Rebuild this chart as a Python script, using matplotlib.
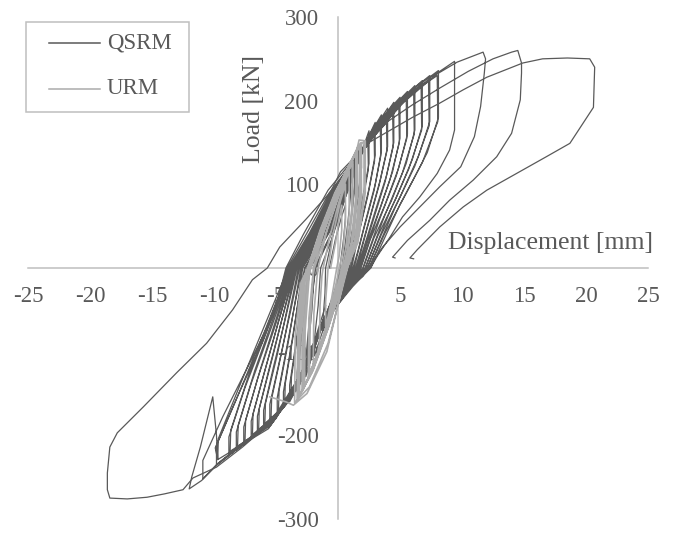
import numpy as np
import matplotlib
matplotlib.use("Agg")
import matplotlib.pyplot as plt
from matplotlib.lines import Line2D
from matplotlib.patches import Rectangle

# ---------------------------------------------------------------------------
# Cyclic test results: (displacement [mm], load [kN]) vertices
# ---------------------------------------------------------------------------

# QSRM wall, cycles 1-18 (recorded continuously; primed = repeated cycle)
qsrm_run1 = [
    # 1
    (-0.7, 0), (-0.2, 35), (0.3, 62), (0.6, 75), (0.6, 60), (0.45, 35), (0.15, 0),
    (-0.3, -30), (-0.8, -55), (-1.2, -75), (-1.2, -60), (-1.05, -30), (-1.0, 0),
    # 2
    (-0.4, 40), (0.3, 80), (1.0, 105), (1.0, 85), (0.8, 55), (0.55, 25), (0.3, 0),
    (-0.3, -30), (-1.0, -65), (-1.9, -105), (-1.9, -85), (-1.6, -45), (-1.4, 0),
    # 3
    (-0.5, 35), (0.4, 75), (1.4, 128), (1.4, 105), (1.15, 70), (0.8, 35), (0.45, 0),
    (-0.2, -25), (-1.2, -65), (-2.0, -100), (-2.6, -130), (-2.6, -110), (-2.3, -60), (-1.8, 0),
    # 3'
    (-0.6, 38), (0.5, 80), (1.3, 122), (1.35, 100), (1.1, 62), (0.6, 15), (0.3, -10),
    (-0.8, -50), (-1.8, -92), (-2.5, -124), (-2.45, -100), (-2.1, -50), (-1.9, 0),
    # 4
    (-0.6, 40), (0.6, 85), (1.3, 125), (1.9, 150), (1.9, 120), (1.6, 85), (1.1, 40), (0.6, 0),
    (0.0, -20), (-1.2, -66), (-2.3, -107), (-3.3, -148), (-3.3, -125), (-2.9, -70), (-2.5, -25), (-2.2, 0),
    # 4'
    (-0.7, 45), (0.8, 95), (1.8, 142), (1.85, 112), (1.5, 72), (1.0, 30), (0.7, 0),
    (-0.2, -28), (-1.5, -75), (-2.6, -118), (-3.2, -142), (-3.15, -115), (-2.8, -60), (-2.4, 0),
    # 5
    (-0.6, 45), (0.9, 95), (1.7, 130), (2.5, 164), (2.5, 125), (2.0, 85), (1.4, 40), (0.8, 0),
    (0.1, -22), (-1.25, -64), (-2.35, -105), (-3.1, -137), (-3.9, -160),
    (-3.9, -140), (-3.4, -90), (-2.9, -35), (-2.5, 0),
    # 5'
    (-0.8, 45), (0.8, 95), (1.8, 132), (2.4, 156), (2.45, 118), (1.9, 72), (1.2, 25), (0.9, 0),
    (-0.1, -28), (-1.5, -74), (-2.6, -114), (-3.8, -154), (-3.75, -130), (-3.2, -75), (-2.65, 0),
    # 6
    (-1.0, 40), (0.6, 88), (1.6, 128), (2.3, 152), (3.0, 174), (3.0, 135), (2.5, 95), (1.8, 50),
    (1.3, 20), (1.0, 0), (0.2, -22), (-1.2, -67), (-2.3, -108), (-3.15, -139), (-3.9, -156),
    (-4.4, -167), (-4.4, -148), (-3.8, -95), (-3.2, -40), (-2.7, 0),
    # 6'
    (-1.0, 42), (0.5, 90), (1.9, 138), (2.9, 166), (2.95, 128), (2.4, 86), (1.6, 36), (1.1, 0),
    (0.0, -26), (-1.5, -74), (-2.7, -118), (-4.3, -161), (-4.25, -138), (-3.6, -80), (-2.85, 0),
    # 7
    (-1.1, 42), (0.5, 90), (1.6, 130), (2.5, 158), (3.5, 183), (3.5, 140), (3.0, 100), (2.2, 55),
    (1.6, 20), (1.2, 0), (0.3, -21), (-1.3, -65), (-2.4, -106), (-3.1, -136), (-3.95, -158),
    (-4.9, -176), (-4.9, -155), (-4.2, -100), (-3.5, -45), (-2.9, 0),
    # 7'
    (-1.2, 42), (0.4, 90), (2.0, 140), (3.4, 175), (3.45, 134), (2.9, 92), (2.0, 42), (1.3, 0),
    (0.1, -26), (-1.6, -76), (-2.8, -122), (-4.8, -170), (-4.75, -146), (-4.0, -88), (-3.0, 0),
    # 8
    (-1.2, 42), (0.4, 90), (1.7, 135), (2.9, 166), (4.0, 191), (4.0, 145), (3.4, 105), (2.6, 62),
    (1.9, 25), (1.4, 0), (0.4, -22), (-1.2, -64), (-2.3, -104), (-3.1, -139), (-3.9, -157),
    (-4.7, -172), (-5.5, -185), (-5.5, -163), (-4.7, -110), (-3.8, -50), (-3.1, 0),
    # 8'
    (-1.3, 42), (0.3, 90), (2.1, 142), (3.9, 183), (3.95, 140), (3.3, 98), (2.4, 50), (1.5, 0),
    (0.2, -25), (-1.6, -77), (-2.9, -124), (-4.1, -160), (-5.4, -180), (-5.35, -156),
    (-4.5, -98), (-3.2, 0),
    # 9
    (-1.4, 42), (0.2, 90), (1.8, 138), (3.0, 168), (3.9, 185), (4.5, 198), (4.5, 150), (3.9, 110),
    (3.0, 68), (2.2, 30), (1.55, 0), (0.5, -22), (-1.2, -66), (-2.3, -107), (-3.1, -138),
    (-3.9, -158), (-5.0, -178), (-6.0, -190), (-6.0, -170), (-5.2, -118), (-4.2, -58), (-3.3, 0),
    # 9'
    (-1.5, 42), (0.1, 90), (2.2, 145), (3.6, 178), (4.4, 192), (4.45, 145), (3.8, 103), (2.8, 55),
    (1.65, 0), (0.3, -25), (-1.6, -78), (-3.0, -126), (-4.4, -166), (-5.9, -186), (-5.85, -162),
    (-4.9, -104), (-3.4, 0),
    # 10
    (-1.6, 42), (0.0, 90), (1.8, 138), (3.0, 170), (4.4, 194), (5.0, 204), (5.0, 155), (4.4, 115),
    (3.4, 72), (2.4, 32), (1.7, 0), (0.6, -22), (-1.3, -66), (-2.3, -105), (-3.2, -139),
    (-3.9, -156), (-5.5, -186), (-6.5, -197), (-6.5, -177), (-5.6, -123), (-4.5, -60), (-3.4, 0),
    # 10'
    (-1.6, 42), (0.0, 90), (2.3, 146), (4.0, 184), (4.9, 198), (4.95, 150), (4.2, 106), (3.1, 58),
    (1.8, 0), (0.4, -25), (-1.6, -78), (-3.0, -127), (-4.6, -170), (-6.4, -193), (-6.35, -168),
    (-5.3, -108), (-3.5, 0),
    # 11
    (-1.7, 42), (-0.1, 90), (1.8, 138), (3.1, 172), (4.9, 200), (5.6, 211), (5.6, 160), (4.9, 120),
    (3.8, 76), (2.6, 34), (1.85, 0), (0.7, -22), (-1.2, -65), (-2.3, -106), (-3.1, -138),
    (-3.9, -157), (-5.6, -187), (-6.4, -196), (-7.0, -204), (-7.0, -183), (-6.0, -128),
    (-4.8, -64), (-3.5, 0),
    # 11'
    (-1.8, 42), (-0.1, 90), (2.4, 148), (4.4, 190), (5.5, 205), (5.55, 155), (4.7, 110), (3.4, 60),
    (2.0, 0), (0.5, -25), (-1.6, -78), (-3.0, -127), (-4.8, -175), (-6.9, -199), (-6.85, -174),
    (-5.7, -112), (-3.6, 0),
    # 12
    (-1.8, 42), (-0.2, 90), (1.8, 138), (3.2, 173), (5.4, 206), (6.2, 218), (6.2, 165), (5.5, 125),
    (4.3, 80), (2.9, 36), (2.05, 0), (0.8, -22), (-1.2, -64), (-2.4, -107), (-3.1, -137),
    (-3.9, -158), (-5.6, -188), (-7.0, -204), (-7.6, -212), (-7.6, -190), (-6.5, -133),
    (-5.0, -66), (-3.6, 0),
    # 12'
    (-1.9, 42), (-0.2, 90), (2.5, 150), (4.8, 195), (6.1, 212), (6.15, 160), (5.2, 114), (3.8, 64),
    (2.2, 0), (0.6, -25), (-1.6, -78), (-3.0, -128), (-5.0, -180), (-7.5, -207), (-7.45, -182),
    (-6.2, -118), (-3.7, 0),
    # 13
    (-1.9, 42), (-0.3, 90), (1.8, 138), (3.3, 174), (5.9, 212), (6.8, 224), (6.8, 170), (6.0, 130),
    (4.7, 84), (3.2, 38), (2.2, 0), (0.9, -22), (-1.2, -66), (-2.3, -106), (-3.1, -139),
    (-3.9, -157), (-5.6, -187), (-7.6, -211), (-8.2, -218), (-8.2, -196), (-7.0, -138),
    (-5.3, -68), (-3.7, 0),
    # 13'
    (-2.0, 42), (-0.3, 90), (2.6, 152), (5.2, 200), (6.7, 218), (6.75, 165), (5.7, 118), (4.2, 68),
    (2.35, 0), (0.7, -25), (-1.6, -78), (-3.0, -128), (-5.2, -184), (-8.1, -213), (-8.05, -188),
    (-6.7, -122), (-3.8, 0),
    # 14
    (-2.0, 42), (-0.4, 90), (1.8, 138), (3.4, 175), (6.4, 218), (7.4, 230), (7.4, 175), (6.5, 134),
    (5.1, 88), (3.5, 40), (2.35, 0), (1.0, -22), (-1.2, -65), (-2.3, -105), (-3.1, -138),
    (-3.9, -157), (-5.6, -186), (-8.2, -217), (-8.8, -224), (-8.8, -202), (-7.5, -143),
    (-5.6, -70), (-3.8, 0),
    # 14'
    (-2.1, 42), (-0.4, 90), (2.7, 154), (5.6, 205), (7.3, 224), (7.35, 170), (6.2, 122), (4.6, 72),
    (2.5, 0), (0.8, -25), (-1.6, -78), (-3.0, -128), (-5.4, -188), (-8.7, -219), (-8.65, -194),
    (-7.2, -128), (-3.9, 0),
    # 15
    (-2.1, 42), (-0.5, 90), (1.8, 138), (3.5, 176), (7.0, 224), (8.1, 236), (8.1, 180), (7.2, 138),
    (5.6, 92), (3.8, 42), (2.5, 0), (1.1, -22), (-1.2, -65), (-2.3, -106), (-3.1, -138),
    (-3.9, -157), (-5.6, -187), (-8.8, -223), (-9.8, -235), (-9.8, -212), (-8.0, -150),
    (-5.9, -75), (-3.9, 0),
    # 15'
    (-2.2, 42), (-0.5, 90), (2.8, 156), (6.0, 210), (8.0, 230), (8.05, 175), (6.8, 126), (5.0, 76),
    (2.65, 0), (0.9, -25), (-1.6, -78), (-3.0, -128), (-5.6, -192), (-9.7, -229), (-9.65, -204),
    (-7.8, -136), (-4.0, 0),
    # 16
    (-2.3, 42), (-0.6, 90), (1.8, 138), (3.6, 177), (7.5, 228), (9.4, 247), (9.4, 165), (9.0, 141),
    (8.0, 113), (6.6, 85), (5.2, 61), (4.2, 37), (3.2, 15), (2.6, 0), (1.2, -22), (-1.2, -65),
    (-2.3, -106), (-3.1, -138), (-3.9, -157), (-5.6, -187), (-9.8, -235), (-10.9, -252),
    (-10.9, -230), (-9.3, -178), (-7.0, -110), (-5.2, -55), (-4.1, 0),
    # 17
    (-2.5, 42), (-0.7, 90), (1.8, 138), (3.7, 178), (8.0, 232), (9.6, 246), (11.7, 258),
    (11.9, 250), (11.8, 233), (11.5, 193), (11.0, 157), (9.9, 121), (8.2, 97), (6.6, 73),
    (5.0, 49), (3.6, 25), (2.7, 5), (2.0, -10), (1.0, -22), (-1.2, -65), (-2.3, -106),
    (-3.1, -138), (-3.9, -157), (-5.6, -187), (-9.8, -236), (-11.0, -254), (-12.0, -264),
    (-11.8, -250), (-11.1, -214), (-10.1, -154), (-9.8, -200), (-9.7, -229), (-9.9, -215),
    (-8.0, -150), (-6.0, -85), (-4.8, -35), (-4.2, 0),
    # 18
    (-2.8, 40), (-0.8, 93), (1.7, 138), (4.0, 175), (6.0, 195), (8.2, 215), (10.5, 235),
    (12.5, 250), (14.0, 258), (14.5, 260), (14.8, 245), (14.8, 233), (14.7, 201), (14.0, 161),
    (12.8, 133), (10.9, 105), (9.0, 81), (7.4, 57), (5.6, 33), (4.4, 13), (4.6, 12),
]

# QSRM wall, final cycle (recorded after a gap)
qsrm_run2 = [
    (-1.0, -45), (-2.3, -106), (-3.1, -138), (-3.9, -157), (-5.6, -187), (-7.7, -214),
    (-9.8, -238), (-11.7, -251), (-12.5, -265), (-14.0, -270), (-15.4, -274), (-17.0, -276),
    (-18.4, -275), (-18.6, -265), (-18.6, -245), (-18.4, -214), (-17.8, -197), (-15.7, -166),
    (-13.0, -125), (-10.6, -90), (-8.5, -50), (-6.9, -14), (-5.7, 0), (-4.7, 25), (-2.6, 58),
    (-0.6, 91), (0.2, 115), (2.5, 150), (6.0, 180), (8.2, 197), (10.1, 213), (12.0, 228),
    (14.9, 245), (16.5, 250), (18.5, 251), (20.3, 250), (20.7, 240), (20.6, 192), (18.7, 149),
    (16.8, 133), (14.4, 113), (12.0, 93), (10.1, 73), (8.2, 49), (6.4, 22), (5.8, 12), (6.1, 11),
]

# URM wall (primed = repeated cycle)
urm_run = [
    # 1
    (-0.6, 0), (-0.2, 30), (0.1, 60), (0.3, 75), (0.3, 45), (0.1, 15), (-0.1, 0),
    (-0.5, -35), (-0.8, -58), (-1.0, -70), (-1.0, -40), (-0.85, -10), (-0.8, 0),
    # 2
    (-0.4, 40), (0.2, 80), (0.6, 100), (0.6, 55), (0.4, 20), (0.1, 0), (-0.5, -45),
    (-1.1, -80), (-1.5, -95), (-1.45, -45), (-1.3, -10), (-1.2, 0),
    # 3
    (-0.7, 35), (0.0, 75), (0.5, 100), (0.9, 115), (0.9, 65), (0.65, 25), (0.3, 0),
    (-0.6, -55), (-1.4, -95), (-2.0, -115), (-1.95, -55), (-1.7, -12), (-1.6, 0),
    # 4
    (-0.9, 45), (0.0, 85), (0.7, 112), (1.2, 128), (1.2, 75), (0.9, 30), (0.5, 0),
    (-0.7, -60), (-1.7, -105), (-2.4, -130), (-2.35, -60), (-2.05, -12), (-1.9, 0),
    # 4'
    (-1.0, 40), (0.1, 88), (0.9, 118), (1.15, 124), (1.1, 70), (0.75, 20), (0.35, -5),
    (-0.9, -68), (-1.9, -112), (-2.3, -126), (-2.25, -70), (-2.0, -10), (-2.0, 0),
    # 5
    (-1.1, 45), (-0.1, 88), (0.9, 122), (1.5, 140), (1.5, 85), (1.2, 35), (0.6, 0),
    (-0.7, -65), (-1.9, -115), (-2.8, -145), (-2.75, -70), (-2.4, -12), (-2.2, 0),
    # 5'
    (-1.2, 42), (0.0, 90), (1.1, 128), (1.45, 136), (1.4, 80), (1.05, 28), (0.45, -5),
    (-0.9, -72), (-2.1, -122), (-2.7, -140), (-2.65, -75), (-2.35, -15), (-2.25, 0),
    # 5''
    (-1.15, 45), (0.05, 92), (1.0, 125), (1.55, 142), (1.55, 88), (1.25, 38), (0.6, 2),
    (-0.8, -70), (-2.0, -120), (-2.9, -148), (-2.9, -72), (-2.55, -14), (-2.25, 0),
    # 6
    (-1.3, 45), (-0.2, 88), (1.0, 126), (1.8, 148), (1.8, 90), (1.5, 40), (0.7, 0),
    (-0.8, -72), (-2.1, -125), (-3.2, -155), (-3.15, -75), (-2.8, -15), (-2.3, 0),
    # 6'
    (-1.3, 45), (-0.1, 92), (1.2, 132), (1.75, 145), (1.7, 85), (1.35, 32), (0.55, -5),
    (-1.0, -78), (-2.3, -130), (-3.1, -152), (-3.05, -80), (-2.7, -15), (-2.35, 0),
    # 6''
    (-1.35, 46), (-0.15, 90), (1.05, 128), (1.85, 150), (1.9, 88), (1.55, 36), (0.75, 0),
    (-0.75, -70), (-2.0, -122), (-3.3, -157), (-3.25, -78), (-2.9, -16), (-2.4, 0),
    # 7'
    (-1.45, 45), (-0.25, 90), (0.9, 122), (1.6, 145), (2.1, 151), (2.1, 92), (1.7, 40),
    (0.8, 2), (-0.8, -90), (-2.3, -142), (-3.5, -161), (-3.45, -82), (-3.0, -18), (-2.45, 0),
    # 7
    (-1.4, 45), (-0.2, 90), (0.8, 118), (1.5, 140), (1.7, 153), (2.2, 152), (2.2, 90),
    (1.6, 30), (0.7, 0), (-0.9, -100), (-2.5, -150), (-3.6, -164), (-4.2, -160), (-5.5, -154),
]

series_labels = ["QSRM", "URM"]
x_ticks = [-25, -20, -15, -10, -5, 0, 5, 10, 15, 20, 25]
y_ticks = [-300, -200, -100, 0, 100, 200, 300]
x_title = "Displacement [mm]"
y_title = "Load [kN]"

# ---------------------------------------------------------------------------
# Styling
# ---------------------------------------------------------------------------
W, H, DPI = 675, 533, 100
TEXT = "#595959"
AXIS = "#bfbfbf"
C_QSRM = "#595959"
C_URM = "#ababab"
FONT = "Liberation Serif"

plt.rcParams["font.family"] = [FONT, "DejaVu Serif"]

fig = plt.figure(figsize=(W / DPI, H / DPI), dpi=DPI)
ax = fig.add_axes([28 / W, 1 - 519 / H, 620 / W, 502 / H])
ax.set_xlim(-25, 25)
ax.set_ylim(-300, 300)
ax.set_axisbelow(True)

q1 = np.array(qsrm_run1).T
q2 = np.array(qsrm_run2).T
u = np.array(urm_run).T
ax.plot(q1[0], q1[1], color=C_QSRM, lw=0.9, zorder=3, solid_joinstyle="round")
ax.plot(q2[0], q2[1], color=C_QSRM, lw=0.9, zorder=3, solid_joinstyle="round")
ax.plot(u[0], u[1], color=C_URM, lw=1.2, zorder=4, solid_joinstyle="round")

# Axes crossing at the origin
for side in ("top", "right"):
    ax.spines[side].set_visible(False)
ax.spines["left"].set_position(("data", 0))
ax.spines["bottom"].set_position(("data", 0))
for side in ("left", "bottom"):
    ax.spines[side].set_color(AXIS)
    ax.spines[side].set_linewidth(1.1)
    ax.spines[side].set_zorder(1)

ax.set_xticks(x_ticks)
ax.set_yticks(y_ticks)
ax.set_xticklabels([str(v) for v in x_ticks])
ax.set_yticklabels([str(v) for v in y_ticks])
ax.tick_params(axis="x", length=0, pad=13, labelsize=16.5, labelcolor=TEXT)
ax.tick_params(axis="y", length=0, pad=14, labelsize=16.5, labelcolor=TEXT)

fig.text(551 / W, 1 - 243 / H, x_title, ha="center", va="center",
         fontsize=18.5, color=TEXT)
fig.text(254 / W, 1 - 109 / H, y_title, ha="center", va="center",
         rotation=90, fontsize=18.5, color=TEXT)

# Legend box
fig.add_artist(Rectangle((26 / W, 1 - 112 / H), 163 / W, 90 / H,
                         transform=fig.transFigure, fill=False,
                         edgecolor=AXIS, lw=1.1))
for y_px, label, col in ((43, series_labels[0], C_QSRM), (89, series_labels[1], C_URM)):
    fig.add_artist(Line2D([49 / W, 100 / W], [1 - y_px / H, 1 - y_px / H],
                          transform=fig.transFigure, color=col, lw=1.1))
    fig.text(107 / W, 1 - y_px / H, label, ha="left", va="center",
             fontsize=16.5, color=TEXT)

fig.savefig("out.png", dpi=DPI)
